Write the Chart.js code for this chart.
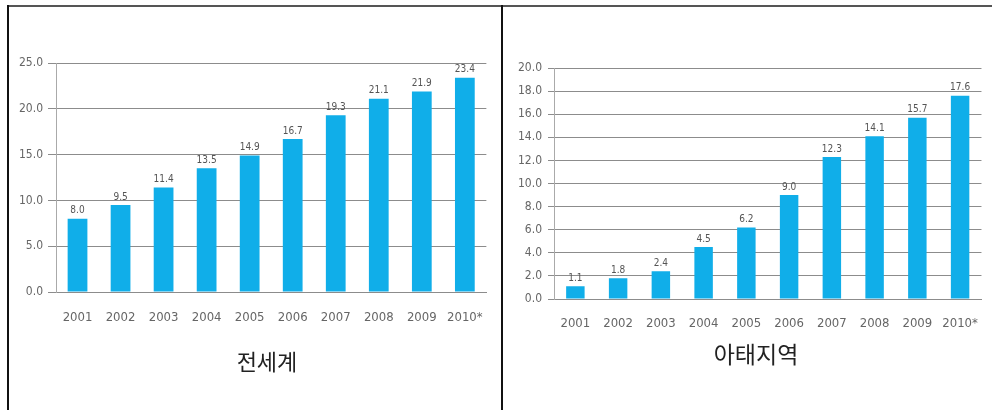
<!DOCTYPE html>
<html>
<head>
<meta charset="utf-8">
<script src="https://cdn.jsdelivr.net/npm/chart.js@4"></script>
<style>
  html, body { margin: 0; padding: 0; background: #fff; overflow: hidden; }
  body { width: 992px; height: 410px; position: relative; }
  .line { position: absolute; }
  .wrap { position: absolute; }
  .title {
    position: absolute;
    font-family: "Noto Sans CJK KR", sans-serif;
    color: #222;
    text-align: center;
    white-space: nowrap;
  }
</style>
</head>
<body>
<div class="line" style="left:7px;top:5px;width:985px;height:2px;background:#555;"></div>
<div class="line" style="left:7px;top:5px;width:2px;height:405px;background:#111;"></div>
<div class="line" style="left:501px;top:5px;width:2px;height:405px;background:#111;"></div>

<div class="wrap" style="left:9px;top:7px;width:492px;height:403px;"><canvas id="worldChart"></canvas></div>
<div class="wrap" style="left:503px;top:7px;width:492px;height:403px;"><canvas id="asiaChart"></canvas></div>

<div class="title" style="left:187px;top:344px;width:160px;font-size:22px;">전세계</div>
<div class="title" style="left:676px;top:336px;width:160px;font-size:23px;">아태지역</div>

<script>
// years on the x axis
const years = ['2001', '2002', '2003', '2004', '2005', '2006', '2007', '2008', '2009', '2010*'];

// values
const worldValues = [8.0, 9.5, 11.4, 13.5, 14.9, 16.7, 19.3, 21.1, 21.9, 23.4];
const asiaValues = [1.1, 1.8, 2.4, 4.5, 6.2, 9.0, 12.3, 14.1, 15.7, 17.6];

// y axis ranges
const worldTicks = { min: 0, max: 25, step: 5 };
const asiaTicks = { min: 0, max: 20, step: 2 };

const barColor = '#10aee9';
const gridColor = '#8c8c8c';
const narrowFont = "'DejaVu Sans Condensed', 'Liberation Sans Narrow', sans-serif";

// value labels above each bar
const valueLabels = {
  id: 'valueLabels',
  afterDatasetsDraw(chart) {
    const ctx = chart.ctx;
    const meta = chart.getDatasetMeta(0);
    const data = chart.data.datasets[0].data;
    ctx.save();
    ctx.font = '10px ' + narrowFont;
    ctx.fillStyle = '#555';
    ctx.textAlign = 'center';
    ctx.textBaseline = 'bottom';
    meta.data.forEach((bar, i) => {
      ctx.fillText(data[i].toFixed(1), bar.x, bar.y - 3);
    });
    ctx.restore();
  }
};

function makeChart(id, values, range, opt) {
  const ctx = document.getElementById(id).getContext('2d');
  return new Chart(ctx, {
    type: 'bar',
    data: {
      labels: years,
      datasets: [{
        data: values,
        backgroundColor: barColor,
        borderWidth: 0,
        barPercentage: 0.9,
        categoryPercentage: opt.catPct
      }]
    },
    options: {
      responsive: true,
      maintainAspectRatio: false,
      animation: false,
      layout: { padding: { top: opt.top, right: opt.right, bottom: 0, left: 0 } },
      plugins: {
        legend: { display: false },
        tooltip: { enabled: false }
      },
      scales: {
        x: {
          grid: { display: false, drawTicks: false },
          border: { display: true, color: gridColor, width: 1 },
          ticks: {
            color: '#666',
            font: { family: narrowFont, size: 13 },
            padding: opt.xPad,
            maxRotation: 0,
            autoSkip: false
          },
          afterFit(scale) { scale.height = opt.xHeight; }
        },
        y: {
          min: range.min,
          max: range.max,
          grid: { color: gridColor, lineWidth: 1, tickLength: opt.tickLen, drawTicks: true },
          border: { display: true, color: '#aaa', width: 1 },
          ticks: {
            stepSize: range.step,
            color: '#666',
            font: { family: narrowFont, size: 12 },
            padding: opt.yPad,
            callback: (v) => Number(v).toFixed(1)
          },
          afterFit(scale) { scale.width = opt.yWidth; }
        }
      }
    },
    plugins: [valueLabels]
  });
}

makeChart('worldChart', worldValues, worldTicks, {
  top: 56, right: 7, xHeight: 118, xPad: 18, yWidth: 47, tickLen: 8, yPad: 5, catPct: 0.51
});
makeChart('asiaChart', asiaValues, asiaTicks, {
  top: 61, right: 2, xHeight: 111, xPad: 17, yWidth: 51, tickLen: 6, yPad: 6, catPct: 0.48
});
</script>
</body>
</html>
